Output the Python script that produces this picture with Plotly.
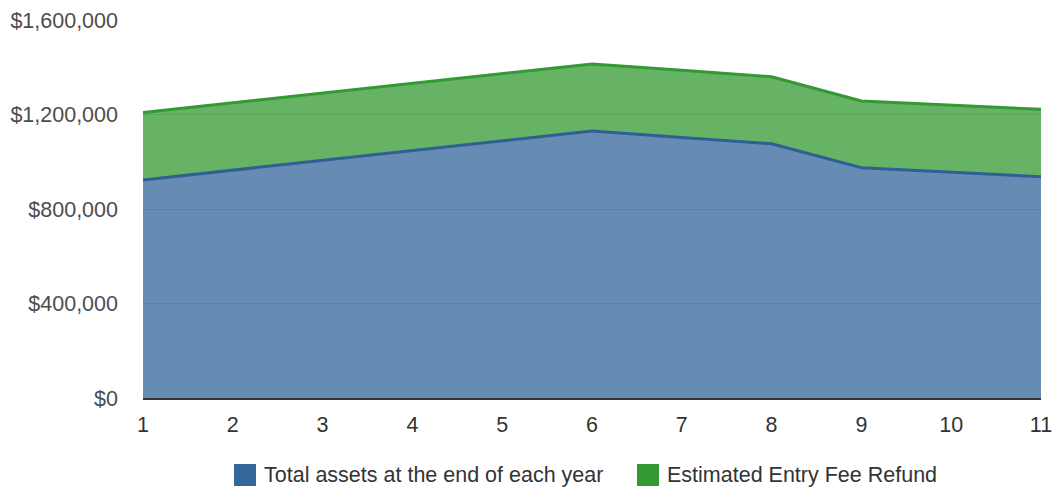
import plotly.graph_objects as go

years = [1, 2, 3, 4, 5, 6, 7, 8, 9, 10, 11]
total_assets = [923000, 964000, 1006000, 1047000, 1089000, 1130000, 1103000, 1076000, 975000, 956000, 937000]
entry_fee_refund = [285000, 285000, 284000, 284000, 284000, 284000, 284000, 284000, 282000, 284000, 285000]
series_names = ["Total assets at the end of each year", "Estimated Entry Fee Refund"]
y_ticks = [0, 400000, 800000, 1200000, 1600000]
y_tick_text = ["$0", "$400,000", "$800,000", "$1,200,000", "$1,600,000"]

FONT = "Liberation Sans, Arial, sans-serif"
BLUE = "#336699"
GREEN = "#339933"
FS = 21.5

fig = go.Figure()
fig.add_trace(go.Scatter(
    x=years, y=total_assets, name=series_names[0], mode="lines",
    stackgroup="one", line=dict(color="#2f5f95", width=3),
    fillcolor="rgba(51,102,153,0.75)", showlegend=False,
))
fig.add_trace(go.Scatter(
    x=years, y=entry_fee_refund, name=series_names[1], mode="lines",
    stackgroup="one", line=dict(color=GREEN, width=3),
    fillcolor="rgba(51,153,51,0.75)", showlegend=False,
))

# Manual legend (large square swatches)
L, W, T, H = 143, 898, 20, 378
def px(x):
    return (x - L) / W
def py(y):
    return (T + H - y) / H

legend_items = [(234, BLUE, series_names[0]), (637, GREEN, series_names[1])]
for x0, col, txt in legend_items:
    fig.add_shape(type="rect", xref="paper", yref="paper",
                  x0=px(x0), x1=px(x0 + 22), y0=py(486), y1=py(464),
                  fillcolor=col, line=dict(width=0))
    fig.add_annotation(xref="paper", yref="paper", x=px(x0 + 28), y=py(475),
                       xanchor="left", yanchor="middle", text=txt, showarrow=False,
                       font=dict(family=FONT, size=FS, color="#333333"))

fig.update_layout(
    width=1053, height=488,
    margin=dict(l=L, r=1053 - L - W, t=T, b=488 - T - H, autoexpand=False),
    paper_bgcolor="white", plot_bgcolor="white",
    font=dict(family=FONT, size=FS, color="#444444"),
    showlegend=False,
    xaxis=dict(
        range=[1, 11], tickmode="array", tickvals=years, automargin=False,
        showgrid=False, zeroline=False, showline=True, linecolor="#333333", linewidth=2,
        ticks="", ticklabelstandoff=6,
        tickfont=dict(family=FONT, size=FS, color="#333333"),
    ),
    yaxis=dict(
        range=[0, 1600000], tickmode="array", tickvals=y_ticks, ticktext=y_tick_text,
        automargin=False,
        showgrid=True, gridcolor="#cccccc", gridwidth=1, zeroline=False, showline=False,
        ticks="", ticklabelstandoff=24,
        tickfont=dict(family=FONT, size=FS, color="#4d4d4d"),
    ),
)

fig.write_html("out.html")
